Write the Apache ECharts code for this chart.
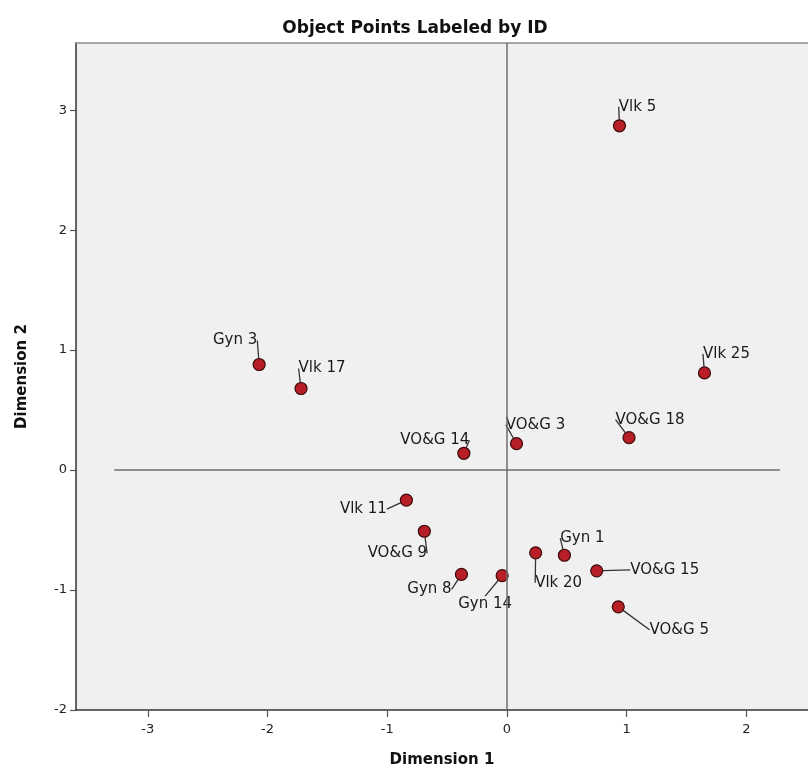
<!DOCTYPE html>
<html>
<head>
<meta charset="utf-8">
<script src="https://cdn.jsdelivr.net/npm/echarts@6/dist/echarts.min.js"></script>
<style>
  html, body { margin: 0; padding: 0; background: #ffffff; }
  #chart { width: 808px; height: 774px; }
</style>
</head>
<body>
<div id="chart"></div>
<script>
// ---- data ----
const ids = ['Vlk 5', 'Vlk 25', 'VO&G 18', 'VO&G 3', 'VO&G 14', 'Gyn 3', 'Vlk 17', 'Vlk 11',
             'VO&G 9', 'Gyn 8', 'Gyn 14', 'Vlk 20', 'Gyn 1', 'VO&G 15', 'VO&G 5'];
const dim1 = [0.94, 1.65, 1.02, 0.08, -0.36, -2.07, -1.72, -0.84, -0.69, -0.38, -0.04, 0.24, 0.48, 0.75, 0.93];
const dim2 = [2.87, 0.81, 0.27, 0.22, 0.14, 0.88, 0.68, -0.25, -0.51, -0.87, -0.88, -0.69, -0.71, -0.84, -1.14];
const xTicks = [-3, -2, -1, 0, 1, 2];
const yTicks = [-2, -1, 0, 1, 2, 3];

// ---- label placement (pixel offsets of label centre from point) ----
const labelOffsets = [
  [18, -19], [22, -19], [21, -18], [19, -19], [-29, -13], [-24, -24], [21, -20], [-43, 9],
  [-27, 22], [-32, 15], [-17, 28], [23, 30], [18, -17], [68, -1], [61, 23]
];

const points = ids.map((id, i) => ({ name: id, value: [dim1[i], dim2[i]] }));

const chart = echarts.init(document.getElementById('chart'), null, { renderer: 'canvas' });
const fontFam = '"DejaVu Sans", "Liberation Sans", sans-serif';

chart.setOption({
  animation: false,
  backgroundColor: '#ffffff',
  title: {
    text: 'Object Points Labeled by ID',
    left: 410, top: 15, textAlign: 'center',
    textStyle: { fontFamily: fontFam, fontWeight: 'bold', fontSize: 17, color: '#111' }
  },
  grid: {
    left: 76, right: 0, top: 43, bottom: 64,
    show: true, backgroundColor: '#f0f0f0', borderWidth: 0
  },
  xAxis: [{
    type: 'value', min: -3.6, max: 2.515,
    name: 'Dimension 1', nameLocation: 'middle', nameGap: 43,
    nameTextStyle: { fontFamily: fontFam, fontWeight: 'bold', fontSize: 15, color: '#111' },
    axisLine: { show: true, onZero: false, lineStyle: { color: '#333', width: 1.5 } },
    axisTick: { show: true, length: 7, customValues: xTicks, lineStyle: { color: '#555', width: 1.2 } },
    axisLabel: { customValues: xTicks, margin: 13, fontFamily: fontFam, fontSize: 13, color: '#222' },
    splitLine: { show: false }
  }, {
    type: 'value', position: 'top', min: -3.6, max: 2.515,
    axisLine: { show: true, onZero: false, lineStyle: { color: '#8a8a8a', width: 1.5 } },
    axisTick: { show: false }, axisLabel: { show: false }, splitLine: { show: false }
  }],
  yAxis: {
    type: 'value', min: -2, max: 3.56,
    name: 'Dimension 2', nameLocation: 'middle', nameGap: 46,
    nameTextStyle: { fontFamily: fontFam, fontWeight: 'bold', fontSize: 15, color: '#111' },
    axisLine: { show: true, onZero: false, lineStyle: { color: '#333', width: 1.5 } },
    axisTick: { show: true, length: 6, customValues: yTicks, lineStyle: { color: '#555', width: 1.2 } },
    axisLabel: { customValues: yTicks, margin: 9, fontFamily: fontFam, fontSize: 13, color: '#222' },
    splitLine: { show: false }
  },
  series: [{
    type: 'scatter',
    data: points,
    symbol: 'circle',
    symbolSize: 12,
    itemStyle: { color: '#b81e25', borderColor: '#3a0a0a', borderWidth: 1.2, opacity: 1 },
    label: {
      show: true, position: 'inside', formatter: '{b}',
      fontFamily: fontFam, fontSize: 15, color: '#1a1a1a'
    },
    labelLine: { show: true, lineStyle: { color: '#333', width: 1.3 } },
    labelLayout: function (params) {
      const o = labelOffsets[params.dataIndex];
      return { dx: o[0], dy: o[1] };
    },
    emphasis: { disabled: true },
    markLine: {
      silent: true,
      symbol: 'none',
      label: { show: false },
      lineStyle: { color: '#6e6e6e', width: 1.5, type: 'solid' },
      data: [
        [{ coord: [0, -2] }, { coord: [0, 3.56] }],
        [{ coord: [-3.28, 0] }, { coord: [2.28, 0] }]
      ]
    },
    z: 3
  }]
});
</script>
</body>
</html>
